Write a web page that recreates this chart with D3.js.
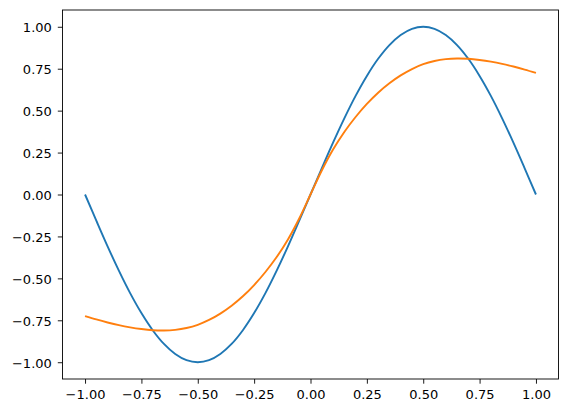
<!DOCTYPE html>
<html>
<head>
<meta charset="utf-8">
<script src="https://cdn.jsdelivr.net/npm/d3@7"></script>
<style>
body{margin:0;background:#fff;}
text{font-family:"DejaVu Sans",sans-serif;}
</style>
</head>
<body>
<div id="graph"></div>
<script>
// x positions shared by both lines
var xs = [-1,-0.95,-0.9,-0.85,-0.8,-0.75,-0.7,-0.65,-0.6,-0.55,-0.5,-0.45,-0.4,-0.35,-0.3,-0.25,-0.2,-0.15,-0.1,-0.05,
  0,0.05,0.1,0.15,0.2,0.25,0.3,0.35,0.4,0.45,0.5,0.55,0.6,0.65,0.7,0.75,0.8,0.85,0.9,0.95,1];
// blue line
var blueVals = [0,-0.156,-0.309,-0.454,-0.588,-0.707,-0.809,-0.891,-0.951,-0.988,-1,-0.988,-0.951,-0.891,-0.809,-0.707,-0.588,-0.454,-0.309,-0.156,
  0,0.156,0.309,0.454,0.588,0.707,0.809,0.891,0.951,0.988,1,0.988,0.951,0.891,0.809,0.707,0.588,0.454,0.309,0.156,0];
// orange line
var orangeVals = [-0.725,-0.745,-0.763,-0.779,-0.792,-0.802,-0.809,-0.811,-0.807,-0.796,-0.777,-0.748,-0.71,-0.663,-0.607,-0.54,-0.462,-0.373,-0.268,-0.143,
  0,0.143,0.268,0.373,0.462,0.54,0.607,0.663,0.71,0.748,0.777,0.796,0.807,0.811,0.809,0.802,0.792,0.779,0.763,0.745,0.725];
var xTicks = [-1,-0.75,-0.5,-0.25,0,0.25,0.5,0.75,1];
var yTicks = [-1,-0.75,-0.5,-0.25,0,0.25,0.5,0.75,1];

var W = 568, H = 413;
var mLeft = 62.5, mRight = 558.5, mTop = 10, mBottom = 379;

var svg = d3.select("#graph").append("svg").attr("width",W).attr("height",H);

var x = d3.scaleLinear().domain([-1.1,1.1]).range([mLeft,mRight]);
var y = d3.scaleLinear().domain([-1.1,1.1]).range([mBottom,mTop]);
var fmt = d3.format(".2f");

// lines
var series = [{vals:blueVals,color:"#1f77b4"},{vals:orangeVals,color:"#ff7f0e"}];
series.forEach(function(s){
  var pts = xs.map(function(d,i){ return [d, s.vals[i]]; });
  svg.append("path").datum(pts)
    .attr("fill","none").attr("stroke",s.color).attr("stroke-width",1.9)
    .attr("d", d3.line().x(function(d){return x(d[0]);}).y(function(d){return y(d[1]);}).curve(d3.curveCatmullRom));
});

// axes
var gx = svg.append("g").attr("transform","translate(0,"+mBottom+")")
  .call(d3.axisBottom(x).tickValues(xTicks).tickFormat(fmt).tickSize(4.7).tickSizeOuter(0).tickPadding(6.3));
var gy = svg.append("g").attr("transform","translate("+mLeft+",0)")
  .call(d3.axisLeft(y).tickValues(yTicks).tickFormat(fmt).tickSize(4.7).tickSizeOuter(0).tickPadding(6));
[gx,gy].forEach(function(g){
  g.select(".domain").remove();
  g.selectAll(".tick line").attr("stroke","#000").attr("stroke-width",0.9);
  g.selectAll(".tick text").attr("fill","#000").style("font-size","13px").style("font-family","DejaVu Sans");
});
gy.selectAll(".tick text").attr("dy","0.4em");

// frame
svg.append("rect").attr("x",mLeft).attr("y",mTop).attr("width",mRight-mLeft).attr("height",mBottom-mTop)
  .attr("fill","none").attr("stroke","#000").attr("stroke-width",0.9);
</script>
</body>
</html>
